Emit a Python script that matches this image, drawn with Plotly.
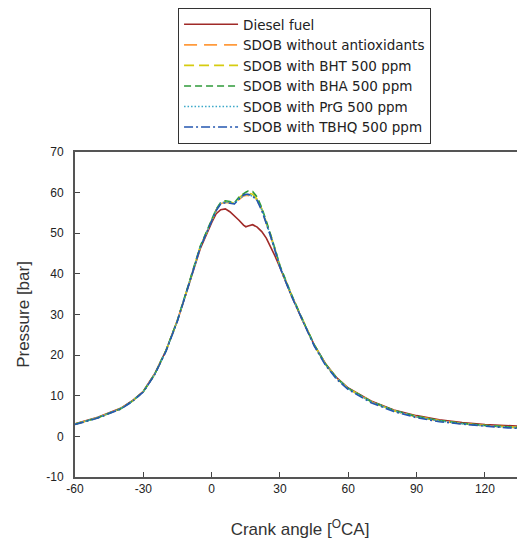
import plotly.graph_objects as go

# crank angle grid [deg CA]
angle = [-60, -50, -40, -35, -30, -25, -20, -15, -10, -5, 0, 2, 4, 6, 8, 10, 12, 14, 15, 16,
         18, 20, 22, 24, 26, 28, 30, 35, 40, 45, 50, 55, 60, 70, 80, 90, 100, 110, 120, 130, 140]

# cylinder pressure [bar]
diesel = [3.1, 4.7, 6.9, 8.7, 11.1, 15.4, 21.2, 28.6, 37.3, 46.2, 52.6, 54.8, 55.8, 56.0, 55.3, 54.3,
          53.2, 52.0, 51.6, 51.8, 52.1, 51.5, 50.4, 48.8, 46.6, 44.2, 41.6, 34.7, 28.4, 22.6, 17.9,
          14.4, 11.9, 8.7, 6.5, 5.1, 4.1, 3.4, 2.9, 2.6, 2.4]
sdob = [3.0, 4.6, 6.8, 8.6, 11.0, 15.3, 21.1, 28.5, 37.5, 46.6, 53.1, 55.6, 57.3, 57.6, 57.5, 57.2,
        58.3, 59.2, 59.3, 59.3, 59.0, 58.2, 55.9, 52.6, 49.3, 45.6, 41.8, 34.8, 28.5, 22.5, 17.7,
        14.2, 11.7, 8.5, 6.3, 4.8, 3.8, 3.1, 2.6, 2.2, 1.9]
bht = [3.0, 4.6, 6.8, 8.6, 11.0, 15.3, 21.2, 28.6, 37.6, 46.7, 53.2, 55.8, 57.5, 57.8, 57.7, 57.4,
       58.7, 59.6, 59.8, 59.9, 59.6, 58.4, 56.0, 52.8, 49.5, 45.8, 41.9, 34.9, 28.6, 22.6, 17.8,
       14.3, 11.8, 8.6, 6.3, 4.9, 3.9, 3.2, 2.7, 2.3, 2.0]
bha = [3.0, 4.6, 6.8, 8.6, 11.0, 15.3, 21.2, 28.6, 37.6, 46.8, 53.3, 55.9, 57.6, 58.0, 57.8, 57.5,
       58.9, 59.8, 60.1, 60.4, 60.3, 58.9, 56.3, 53.0, 49.6, 45.9, 42.0, 35.0, 28.6, 22.6, 17.8,
       14.3, 11.8, 8.6, 6.4, 4.9, 3.9, 3.2, 2.7, 2.3, 2.0]
prg = [3.0, 4.6, 6.8, 8.6, 11.0, 15.3, 21.1, 28.5, 37.5, 46.6, 53.1, 55.7, 57.4, 57.7, 57.6, 57.3,
       58.5, 59.3, 59.5, 59.5, 59.1, 58.1, 55.8, 52.6, 49.3, 45.6, 41.8, 34.8, 28.5, 22.5, 17.7,
       14.2, 11.7, 8.5, 6.3, 4.8, 3.8, 3.1, 2.6, 2.2, 1.9]
tbhq = [2.9, 4.5, 6.7, 8.5, 10.9, 15.2, 21.0, 28.4, 37.4, 46.5, 53.0, 55.6, 57.2, 57.5, 57.4, 57.2,
        58.4, 59.4, 59.6, 59.6, 59.2, 58.0, 55.6, 52.4, 49.1, 45.4, 41.6, 34.6, 28.3, 22.3, 17.5,
        14.0, 11.5, 8.3, 6.1, 4.6, 3.6, 3.0, 2.5, 2.1, 1.8]

x_ticks = [-60, -30, 0, 30, 60, 90, 120]
y_ticks = [-10, 0, 10, 20, 30, 40, 50, 60, 70]

series = [
    ("Diesel fuel", diesel, "#a02a28", "solid"),
    ("SDOB without antioxidants", sdob, "#ff9a3c", "13px,7px"),
    ("SDOB with BHT 500 ppm", bht, "#d6cc10", "10px,5px"),
    ("SDOB with BHA 500 ppm", bha, "#2f9a3a", "7px,4px"),
    ("SDOB with PrG 500 ppm", prg, "#3aa8c8", "1.5px,2px"),
    ("SDOB with TBHQ 500 ppm", tbhq, "#2457b0", "9px,3px,2px,3px"),
]

fig = go.Figure()
for name, vals, color, dash in series:
    fig.add_trace(go.Scatter(
        x=angle, y=vals, mode="lines", name=name,
        line=dict(color=color, width=1.6, dash=dash),
    ))

axis_font = dict(family="Liberation Sans, Arial, sans-serif", size=12, color="#222")

# page body adds 8px, so margins are shifted to keep the plot box in place
fig.update_layout(
    width=525, height=544,
    margin=dict(l=67, r=8, t=144, b=75),
    plot_bgcolor="white", paper_bgcolor="white",
    font=dict(family="Liberation Sans, Arial, sans-serif", color="#222"),
    legend=dict(
        x=0.229, y=1.0, xanchor="left", yanchor="top", yref="container",
        bgcolor="white", bordercolor="#333", borderwidth=1,
        font=dict(family="DejaVu Sans, sans-serif", size=13.5, color="#222"),
        itemwidth=54, tracegroupgap=0,
    ),
)

fig.update_xaxes(
    range=[-60, 137.6], tickvals=x_ticks, ticktext=[str(v) for v in x_ticks],
    ticks="inside", ticklen=5, tickcolor="#444", showgrid=False, zeroline=False,
    showline=True, linecolor="#555", linewidth=2, mirror=True, automargin=False,
    tickfont=axis_font,
    title=dict(text="Crank angle [<sup>O</sup>CA]", font=dict(size=17, color="#333"), standoff=28),
)
fig.update_yaxes(
    range=[-10, 70], tickvals=y_ticks, ticktext=[str(v) for v in y_ticks],
    ticks="inside", ticklen=5, tickcolor="#444", showgrid=False, zeroline=False,
    showline=True, linecolor="#555", linewidth=2, automargin=False,
    tickfont=axis_font, ticklabelstandoff=7,
    title=dict(text="Pressure [bar]", font=dict(size=17, color="#333"), standoff=12),
)

fig.write_html("out.html")
